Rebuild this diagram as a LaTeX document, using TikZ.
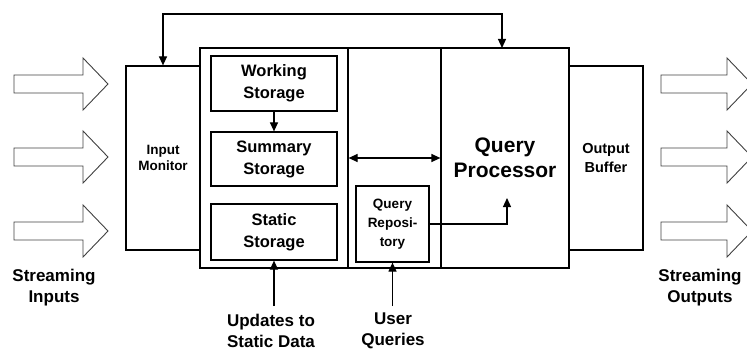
\documentclass[tikz,border=0pt]{standalone}
\usepackage{fontspec}
\setmainfont{Liberation Sans}
\usetikzlibrary{arrows.meta}

\begin{document}
\begin{tikzpicture}[x=1pt,y=-1pt,
  box/.style={draw=black,line width=1.2pt,rectangle,inner sep=0pt,align=center,font=\bfseries},
  arr/.style={line width=1.2pt,-{Triangle[length=9pt,width=8pt]}},
  darr/.style={line width=1.2pt,{Triangle[length=9pt,width=8pt]}-{Triangle[length=9pt,width=8pt]}},
  blockarr/.style={draw=black!75,line width=0.9pt,line join=miter},
  lbl/.style={align=center,font=\fontsize{17}{21}\selectfont\bfseries,inner sep=0pt}
]
\useasboundingbox (0,0) rectangle (747,350);
\clip (0,0) rectangle (747,350);

% main blocks
\node[box,minimum width=74,minimum height=184,font=\fontsize{13.5}{16}\selectfont\bfseries] (im) at (163,158) {Input\\Monitor};
\node[box,minimum width=148,minimum height=220] (store) at (274,158) {};
\node[box,minimum width=93,minimum height=220] (mid) at (394.5,158) {};
\node[box,minimum width=128,minimum height=220,font=\fontsize{21}{25}\selectfont\bfseries] (qp) at (505,158) {Query\\Processor};
\node[box,minimum width=74,minimum height=184,font=\fontsize{14.5}{19}\selectfont\bfseries] (ob) at (606,158) {Output\\Buffer};

% storage areas
\node[box,minimum width=126,minimum height=55,font=\fontsize{16.5}{22}\selectfont\bfseries] (ws) at (274,83.5) {Working\\Storage};
\node[box,minimum width=126,minimum height=54,font=\fontsize{16.5}{22}\selectfont\bfseries] (ss) at (274,159) {Summary\\Storage};
\node[box,minimum width=126,minimum height=56,font=\fontsize{16.5}{22}\selectfont\bfseries] (st) at (274,232) {Static\\Storage};
\node[box,minimum width=73,minimum height=76,font=\fontsize{13.5}{19}\selectfont\bfseries] (repo) at (392.5,224) {Query\\Reposi-\\tory};

% internal connectors
\draw[arr] (ws.south) -- (ss.north);
\draw[darr] (store.east) -- (qp.west);
\coordinate (qpin) at (507,198);
\draw[arr] (repo.east) -| (qpin);

% feedback from the processor to the input monitor
\coordinate (fb) at (163,14);
\coordinate (qptop) at (502,48);
\draw[darr] (im.north) -- (fb) -| (qptop);

% external inputs
\coordinate (upd) at (274,306);
\coordinate (uq) at (392.5,306);
\draw[arr] (upd) -- (st.south);
\draw[arr] (uq) -- (repo.south);

% streaming block arrows
\foreach \y in {84,157,231} {
  \draw[blockarr] (14,\y-9) -- (83,\y-9) -- (83,\y-26) -- (108,\y) -- (83,\y+26) -- (83,\y+9) -- (14,\y+9) -- cycle;
  \draw[blockarr] (661,\y-9) -- (727,\y-9) -- (727,\y-26) -- (752,\y) -- (727,\y+26) -- (727,\y+9) -- (661,\y+9) -- cycle;
}

% labels
\node[lbl] (sin) at (54,288) {Streaming\\Inputs};
\node[lbl] (sout) at (700,288) {Streaming\\Outputs};
\node[lbl] (updl) at (271,330.5) {Updates to\\Static Data};
\node[lbl] (uql) at (393,330.5) {User\\Queries};
\end{tikzpicture}
\end{document}
